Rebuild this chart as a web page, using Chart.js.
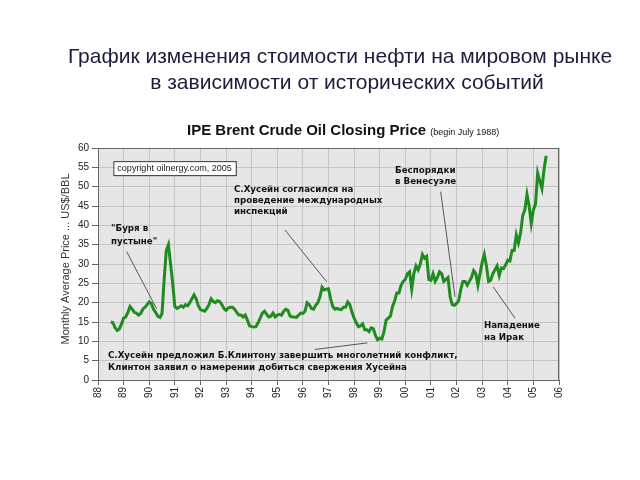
<!DOCTYPE html>
<html>
<head>
<meta charset="utf-8">
<script src="https://cdn.jsdelivr.net/npm/chart.js@4/dist/chart.umd.min.js"></script>
<style>
  html, body { margin: 0; padding: 0; background: #fff; }
  #wrap { position: relative; width: 640px; height: 480px; overflow: hidden; }
  .head { position: absolute; width: 640px; text-align: center; font-family: "Liberation Sans", Arial, sans-serif; font-size: 21px; color: #1c1c3c; white-space: nowrap; }
  #h1 { top: 44px; left: 20px; }
  #h2 { top: 70px; left: 27px; }
  #chart { position: absolute; left: 0; top: 0; }
</style>
</head>
<body>
<div id="wrap">
  <canvas id="chart" width="640" height="480"></canvas>
  <div class="head" id="h1">График изменения стоимости нефти на мировом рынке</div>
  <div class="head" id="h2">в зависимости от исторических событий</div>
</div>
<script>
// monthly average Brent price, starting July 1988
const startYear = 1988;
const startMonth = 6;
const prices = [
  15.0, 14.8, 13.5, 12.8, 13.2, 14.5,
  16.0, 16.3, 17.5, 19.0, 18.3, 17.5, 17.3, 16.8, 17.2, 18.3, 18.8, 19.5,
  20.2, 19.8, 18.3, 17.5, 16.5, 16.2, 17.2, 26.0, 33.5, 35.0, 30.0, 25.0,
  19.0, 18.5, 18.8, 19.2, 18.8, 19.5, 19.2, 20.0, 21.0, 22.0, 21.0, 19.2,
  18.2, 18.0, 17.8, 18.5, 19.5, 21.0, 20.3, 20.0, 20.5, 20.3, 19.5, 18.5,
  18.0, 18.6, 18.8, 18.8, 18.3, 17.5, 16.8, 16.8, 16.3, 16.8, 15.5, 14.0,
  13.8, 13.7, 13.8, 14.8, 16.0, 17.3, 17.8, 17.0, 16.3, 16.5, 17.3, 16.3,
  16.8, 17.0, 16.8, 17.8, 18.3, 18.0, 16.5, 16.3, 16.3, 16.2, 16.8, 17.3,
  17.2, 17.8, 20.0, 19.5, 18.5, 18.3, 19.3, 20.0, 21.5, 24.0, 23.3, 23.5,
  23.6, 21.0, 19.0, 18.3, 18.5, 18.3, 18.2, 18.8, 18.8, 20.2, 19.5, 17.5,
  16.0, 14.8, 13.8, 14.0, 14.5, 13.0, 13.0, 12.5, 13.5, 13.3, 11.5, 10.4,
  10.8, 10.6, 12.5, 15.5, 16.0, 16.5, 19.0, 20.5, 22.5, 22.5, 24.5, 25.5,
  26.0, 27.5, 28.0, 23.5, 27.5, 29.5, 28.5, 30.0, 32.5, 31.5, 32.0, 26.0,
  25.8, 27.5, 25.5, 26.5, 28.0, 27.5, 25.5, 26.0, 26.5, 21.5, 19.5, 19.3,
  19.8, 20.5, 23.5, 25.5, 25.5, 24.5, 25.5, 26.5, 28.3, 27.5, 24.5, 27.5,
  30.5, 32.5, 29.5, 25.5, 25.8, 27.5, 28.5, 29.5, 27.0, 29.0, 28.8, 29.8,
  31.0, 30.8, 33.5, 33.5, 37.5, 35.5, 38.0, 42.5, 44.0, 48.0, 45.0, 40.5,
  44.0, 45.5, 53.5, 51.5, 49.5, 54.5, 58.0
];
const yearMin = 1988;
const yearMax = 2006;
const priceMax = 60;
const priceStep = 5;

// notes: text anchor and pointer line given in (year, price)
const notes = [
  { lines: ['"Буря в', 'пустыне"'], at: [1988.51, 39.0], step: 3.3, from: [1989.12, 33.2], to: [1990.29, 18.4] },
  { lines: ['С.Хусейн согласился на', 'проведение международных', 'инспекций'], at: [1993.31, 49.1], step: 2.75, from: [1995.30, 38.8], to: [1996.93, 25.4] },
  { lines: ['Беспорядки', 'в Венесуэле'], at: [1999.6, 54.0], step: 2.85, from: [2001.38, 48.7], to: [2001.94, 21.5] },
  { lines: ['Нападение', 'на Ирак'], at: [2003.07, 14.0], step: 3.0, from: [2004.28, 16.0], to: [2003.43, 24.1] },
  { lines: ['С.Хусейн предложил Б.Клинтону завершить многолетний конфликт,', 'Клинтон заявил о намерении добиться свержения Хусейна'], at: [1988.39, 6.2], step: 3.0, from: [1996.47, 7.9], to: [1998.52, 9.6] }
];

const points = prices.map((p, i) => ({ x: startYear + (startMonth + i) / 12, y: p }));

const decor = {
  id: 'decor',
  beforeDraw(chart) {
    const { ctx, chartArea: a } = chart;
    ctx.save();
    ctx.fillStyle = '#e6e6e6';
    ctx.fillRect(a.left, a.top, a.right - a.left, a.bottom - a.top);
    ctx.restore();
  },
  afterDraw(chart) {
    const { ctx, chartArea: a } = chart;
    const xs = chart.scales.x, ys = chart.scales.y;
    ctx.save();
    ctx.strokeStyle = '#666';
    ctx.lineWidth = 1;
    ctx.strokeRect(a.left + 0.5, a.top + 0.5, a.right - a.left - 1, a.bottom - a.top);

    // title
    ctx.fillStyle = '#111';
    ctx.textBaseline = 'alphabetic';
    ctx.font = 'bold 15px "Liberation Sans", Arial, sans-serif';
    ctx.fillText('IPE Brent Crude Oil Closing Price', 187, 135);
    const w = ctx.measureText('IPE Brent Crude Oil Closing Price').width;
    ctx.font = '9px "Liberation Sans", Arial, sans-serif';
    ctx.fillText('(begin July 1988)', 187 + w + 4, 135);

    // y axis title
    ctx.save();
    ctx.translate(66, 259);
    ctx.rotate(-Math.PI / 2);
    ctx.textAlign = 'center';
    ctx.textBaseline = 'middle';
    ctx.fillStyle = '#333';
    ctx.font = '11px "Liberation Sans", Arial, sans-serif';
    ctx.fillText('Monthly Average Price ... US$/BBL', 0, 0);
    ctx.restore();

    // copyright box
    const bx = xs.getPixelForValue(1988.6), by = ys.getPixelForValue(56.6);
    ctx.font = '9px "Liberation Sans", Arial, sans-serif';
    const cw = ctx.measureText('copyright oilnergy.com, 2005').width;
    ctx.fillStyle = '#fff';
    ctx.fillRect(bx, by, cw + 8, 14);
    ctx.strokeStyle = '#333';
    ctx.strokeRect(bx + 0.5, by + 0.5, cw + 8, 14);
    ctx.fillStyle = '#222';
    ctx.textBaseline = 'middle';
    ctx.fillText('copyright oilnergy.com, 2005', bx + 4, by + 7.5);

    // notes
    ctx.font = 'bold 8.7px "DejaVu Sans", Verdana, sans-serif';
    ctx.fillStyle = '#111';
    notes.forEach(n => {
      n.lines.forEach((t, k) => {
        ctx.fillText(t, xs.getPixelForValue(n.at[0]), ys.getPixelForValue(n.at[1] - k * n.step));
      });
      ctx.strokeStyle = '#555';
      ctx.lineWidth = 1;
      ctx.beginPath();
      ctx.moveTo(xs.getPixelForValue(n.from[0]), ys.getPixelForValue(n.from[1]));
      ctx.lineTo(xs.getPixelForValue(n.to[0]), ys.getPixelForValue(n.to[1]));
      ctx.stroke();
    });
    ctx.restore();
  }
};

new Chart(document.getElementById('chart'), {
  type: 'line',
  data: {
    datasets: [{
      data: points,
      borderColor: '#1f8c1f',
      borderWidth: 3,
      pointRadius: 0,
      tension: 0,
      fill: false
    }]
  },
  options: {
    responsive: false,
    animation: false,
    layout: { padding: { left: 0, right: 81, top: 148, bottom: 60 } },
    plugins: { legend: { display: false }, tooltip: { enabled: false } },
    scales: {
      x: {
        type: 'linear',
        min: yearMin,
        max: yearMax,
        afterFit: s => { s.height = 40; },
        ticks: {
          stepSize: 1,
          maxRotation: 90,
          minRotation: 90,
          padding: 2,
          color: '#222',
          font: { size: 10, family: '"Liberation Sans", Arial, sans-serif' },
          callback: v => String(v % 100).padStart(2, '0')
        },
        grid: { color: '#c4c4c4', tickLength: 5, tickColor: '#666' },
        border: { color: '#666' }
      },
      y: {
        min: 0,
        max: priceMax,
        afterFit: s => { s.width = 98; },
        ticks: {
          stepSize: priceStep,
          padding: 3,
          color: '#222',
          font: { size: 10, family: '"Liberation Sans", Arial, sans-serif' }
        },
        grid: { color: '#c4c4c4', tickLength: 6, tickColor: '#666' },
        border: { color: '#666' }
      }
    }
  },
  plugins: [decor]
});
</script>
</body>
</html>
